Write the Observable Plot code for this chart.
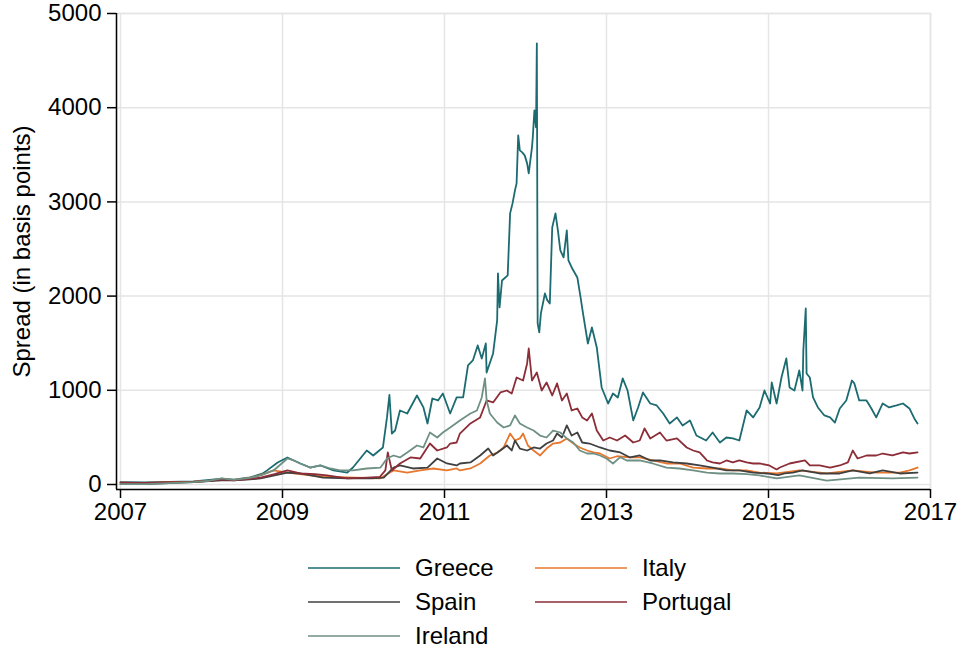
<!DOCTYPE html>
<html>
<head>
<meta charset="utf-8">
<script src="https://cdn.jsdelivr.net/npm/d3@7"></script>
<script src="https://cdn.jsdelivr.net/npm/@observablehq/plot@0.6"></script>
<style>
  html, body { margin: 0; padding: 0; background: #fff; }
  #chart { width: 958px; }
  svg { display: block; }
</style>
</head>
<body>
<div id="chart"></div>
<script>
// ---------- data (decimal year, spread in bp) ----------
const countries = ["Greece", "Italy", "Spain", "Portugal", "Ireland"];
const colors = ["#1b6b71", "#e8772e", "#404040", "#8c2d37", "#6f9084"];
const xTicks = [2007, 2009, 2011, 2013, 2015, 2017];
const yTicks = [0, 1000, 2000, 3000, 4000, 5000];
const yTitle = "Spread (in basis points)";

const greece = [[2007.0,25],[2007.3,22],[2007.6,28],[2007.9,32],[2008.1,48],[2008.25,62],[2008.4,52],[2008.6,75],[2008.75,115],[2008.81,150],[2008.94,234],[2009.06,287],[2009.14,255],[2009.22,223],[2009.34,180],[2009.47,202],[2009.63,149],[2009.8,127],[2009.87,180],[2010.04,361],[2010.12,308],[2010.24,393],[2010.29,712],[2010.32,950],[2010.35,541],[2010.39,573],[2010.45,786],[2010.54,754],[2010.66,945],[2010.74,818],[2010.79,648],[2010.85,913],[2010.92,892],[2010.98,966],[2011.07,754],[2011.15,924],[2011.23,924],[2011.29,1264],[2011.35,1317],[2011.41,1476],[2011.46,1338],[2011.51,1497],[2011.52,1189],[2011.6,1391],[2011.65,1742],[2011.66,2241],[2011.68,1880],[2011.71,2166],[2011.78,2220],[2011.81,2878],[2011.84,2984],[2011.87,3122],[2011.89,3197],[2011.91,3706],[2011.93,3547],[2011.96,3526],[2011.99,3494],[2012.02,3409],[2012.04,3303],[2012.08,3579],[2012.09,3685],[2012.11,3972],[2012.13,3791],[2012.14,4683],[2012.15,1710],[2012.17,1614],[2012.19,1816],[2012.24,2028],[2012.27,1954],[2012.30,1922],[2012.33,2729],[2012.37,2878],[2012.40,2697],[2012.43,2485],[2012.47,2411],[2012.51,2697],[2012.53,2379],[2012.57,2304],[2012.64,2198],[2012.68,1986],[2012.71,1816],[2012.77,1497],[2012.82,1667],[2012.88,1455],[2012.94,1030],[2013.02,860],[2013.08,966],[2013.14,924],[2013.20,1126],[2013.26,998],[2013.33,680],[2013.39,818],[2013.45,977],[2013.54,860],[2013.62,839],[2013.70,754],[2013.78,648],[2013.87,712],[2013.94,627],[2014.03,680],[2014.11,520],[2014.23,467],[2014.31,552],[2014.40,446],[2014.48,499],[2014.56,489],[2014.64,467],[2014.73,786],[2014.81,712],[2014.89,818],[2014.95,998],[2015.02,860],[2015.04,1083],[2015.10,860],[2015.16,1136],[2015.22,1338],[2015.26,1030],[2015.32,998],[2015.38,1211],[2015.42,998],[2015.43,1423],[2015.46,1869],[2015.47,1179],[2015.51,1136],[2015.55,924],[2015.61,818],[2015.69,733],[2015.76,712],[2015.82,658],[2015.88,807],[2015.96,892],[2016.03,1104],[2016.06,1073],[2016.12,892],[2016.21,892],[2016.27,807],[2016.33,712],[2016.41,860],[2016.49,818],[2016.58,839],[2016.66,860],[2016.74,807],[2016.80,701],[2016.84,648]];

const italy = [[2007.0,20],[2007.3,15],[2007.6,25],[2007.9,30],[2008.1,40],[2008.25,55],[2008.4,50],[2008.6,70],[2008.73,100],[2008.89,149],[2009.06,127],[2009.22,110],[2009.34,96],[2009.6,80],[2009.9,74],[2010.2,64],[2010.37,149],[2010.54,127],[2010.70,149],[2010.86,170],[2011.03,149],[2011.15,170],[2011.19,149],[2011.32,170],[2011.44,223],[2011.56,308],[2011.65,340],[2011.73,393],[2011.81,541],[2011.87,467],[2011.93,489],[2011.97,541],[2012.03,414],[2012.10,361],[2012.18,308],[2012.26,382],[2012.34,435],[2012.43,446],[2012.51,489],[2012.59,435],[2012.67,393],[2012.76,361],[2012.84,340],[2012.92,329],[2013.04,276],[2013.13,300],[2013.29,287],[2013.41,287],[2013.57,255],[2013.74,223],[2013.90,223],[2014.07,180],[2014.24,170],[2014.40,170],[2014.56,149],[2014.73,149],[2014.89,127],[2015.10,117],[2015.38,149],[2015.72,117],[2016.04,149],[2016.33,127],[2016.62,127],[2016.74,149],[2016.84,180]];

const spain = [[2007.0,5],[2007.3,5],[2007.6,15],[2007.9,25],[2008.1,35],[2008.25,45],[2008.4,45],[2008.6,55],[2008.73,64],[2009.06,127],[2009.22,117],[2009.5,74],[2009.8,64],[2010.1,64],[2010.25,74],[2010.37,180],[2010.45,202],[2010.61,170],[2010.79,180],[2010.91,276],[2011.03,223],[2011.15,202],[2011.19,223],[2011.32,234],[2011.44,308],[2011.54,382],[2011.60,308],[2011.69,361],[2011.77,414],[2011.83,361],[2011.87,467],[2011.93,382],[2012.02,361],[2012.10,393],[2012.18,382],[2012.26,435],[2012.34,467],[2012.39,541],[2012.45,499],[2012.51,627],[2012.57,520],[2012.64,552],[2012.70,446],[2012.79,435],[2012.92,393],[2013.04,361],[2013.17,340],[2013.29,287],[2013.41,308],[2013.54,255],[2013.66,255],[2013.82,234],[2013.99,223],[2014.15,202],[2014.31,180],[2014.48,149],[2014.64,149],[2014.81,127],[2014.98,117],[2015.12,100],[2015.20,117],[2015.30,127],[2015.42,149],[2015.63,117],[2015.88,117],[2016.04,149],[2016.25,117],[2016.41,149],[2016.62,117],[2016.84,127]];

const portugal = [[2007.0,20],[2007.3,18],[2007.6,25],[2007.9,28],[2008.1,40],[2008.25,55],[2008.4,45],[2008.6,60],[2008.73,74],[2008.9,110],[2009.06,149],[2009.22,117],[2009.4,110],[2009.55,96],[2009.8,64],[2010.05,74],[2010.2,80],[2010.27,150],[2010.30,340],[2010.35,149],[2010.45,223],[2010.58,287],[2010.70,276],[2010.82,435],[2010.91,361],[2011.03,393],[2011.07,435],[2011.15,446],[2011.19,541],[2011.32,648],[2011.44,712],[2011.52,892],[2011.60,871],[2011.69,977],[2011.77,998],[2011.83,966],[2011.89,1136],[2011.97,1104],[2012.02,1285],[2012.04,1444],[2012.08,1104],[2012.14,1189],[2012.20,998],[2012.26,1083],[2012.33,945],[2012.39,1073],[2012.45,892],[2012.51,966],[2012.57,786],[2012.64,807],[2012.70,712],[2012.76,680],[2012.82,754],[2012.88,573],[2012.96,467],[2013.04,499],[2013.13,467],[2013.23,520],[2013.33,446],[2013.41,467],[2013.47,595],[2013.54,489],[2013.66,552],[2013.74,467],[2013.87,489],[2013.99,393],[2014.07,361],[2014.15,340],[2014.24,255],[2014.31,234],[2014.40,223],[2014.48,255],[2014.56,234],[2014.64,255],[2014.73,234],[2014.81,223],[2014.89,223],[2015.01,202],[2015.10,160],[2015.14,180],[2015.26,223],[2015.45,255],[2015.51,202],[2015.63,202],[2015.76,180],[2015.88,202],[2015.98,234],[2016.04,361],[2016.10,276],[2016.21,308],[2016.33,308],[2016.41,329],[2016.53,308],[2016.66,340],[2016.74,329],[2016.84,340]];

const ireland = [[2007.0,5],[2007.3,5],[2007.6,15],[2007.9,25],[2008.1,40],[2008.25,65],[2008.4,50],[2008.6,70],[2008.73,96],[2008.89,149],[2009.06,276],[2009.14,255],[2009.22,223],[2009.34,180],[2009.47,202],[2009.59,170],[2009.71,149],[2009.87,149],[2010.04,170],[2010.21,180],[2010.29,276],[2010.37,308],[2010.45,287],[2010.54,340],[2010.66,414],[2010.74,393],[2010.82,552],[2010.91,499],[2010.98,552],[2011.07,605],[2011.19,680],[2011.32,754],[2011.40,786],[2011.46,924],[2011.50,1126],[2011.52,892],[2011.56,754],[2011.65,658],[2011.73,605],[2011.81,627],[2011.87,733],[2011.93,648],[2012.02,605],[2012.10,573],[2012.18,520],[2012.26,499],[2012.34,573],[2012.43,552],[2012.51,489],[2012.59,446],[2012.67,361],[2012.76,329],[2012.84,329],[2012.92,308],[2013.00,276],[2013.08,223],[2013.17,290],[2013.25,255],[2013.41,255],[2013.57,223],[2013.74,180],[2013.90,170],[2014.07,149],[2014.24,127],[2014.40,117],[2014.56,117],[2014.73,110],[2014.89,96],[2015.10,64],[2015.38,96],[2015.72,42],[2016.12,74],[2016.53,64],[2016.84,74]];

const seriesValues = [greece, italy, spain, portugal, ireland];

// ---------- build table ----------
const rows = [];
countries.forEach((c, i) => {
  for (const [year, value] of seriesValues[i]) rows.push({country: c, year, value});
});

const FONT = "'Liberation Sans', Arial, Helvetica, sans-serif";
const FS = 24;
const grid = "#e5e5e5";

const chart = Plot.plot({
  width: 958,
  height: 535,
  marginLeft: 116,
  marginRight: 28,
  marginTop: 13,
  marginBottom: 46,
  style: {fontFamily: FONT, fontSize: FS + "px", color: "#000", background: "#fff", overflow: "visible"},
  x: {domain: [2007, 2017], insetLeft: 4, label: null},
  y: {domain: [0, 5000], insetBottom: 5, label: null},
  color: {domain: countries, range: colors},
  marks: [
    Plot.frame({stroke: grid, strokeWidth: 1.5}),
    Plot.gridY(yTicks, {stroke: grid, strokeOpacity: 1, strokeWidth: 1.5}),
    Plot.gridX(xTicks, {stroke: grid, strokeOpacity: 1, strokeWidth: 1.5}),
    Plot.line(rows, {x: "year", y: "value", z: "country", stroke: "country", strokeWidth: 1.8, strokeLinejoin: "round"}),
    Plot.ruleX([2007], {dx: -4, stroke: "#000", strokeWidth: 1.5}),
    Plot.ruleY([0], {dy: 5, stroke: "#000", strokeWidth: 1.5}),
    Plot.axisY(yTicks, {tickSize: 9, tickPadding: 6, label: null, fontSize: FS, tickFormat: d => String(d), strokeWidth: 1.5}),
    Plot.axisX(xTicks, {tickSize: 9, tickPadding: 4, label: null, fontSize: FS, tickFormat: d => String(d), strokeWidth: 1.5}),
    Plot.text([yTitle], {frameAnchor: "left", text: d => d, rotate: -90, dx: -94, fontSize: FS, textAnchor: "middle", lineAnchor: "middle", fill: "#000"})
  ]
});
document.getElementById("chart").appendChild(chart);

// ---------- legend (below the plot) ----------
const legendOrder = [
  {name: "Greece", col: 0, row: 0},
  {name: "Spain", col: 0, row: 1},
  {name: "Ireland", col: 0, row: 2},
  {name: "Italy", col: 1, row: 0},
  {name: "Portugal", col: 1, row: 1}
];
const colX = [308, 535];
const rowY = [33, 67, 101];
const leg = d3.create("svg").attr("width", 958).attr("height", 115)
  .style("font-family", FONT).style("font-size", FS + "px");
for (const item of legendOrder) {
  const color = colors[countries.indexOf(item.name)];
  const g = leg.append("g").attr("transform", `translate(${colX[item.col]},${rowY[item.row]})`);
  g.append("line").attr("x1", 0).attr("x2", 92).attr("y1", 0).attr("y2", 0)
    .attr("stroke", color).attr("stroke-width", 1.6);
  g.append("text").attr("x", 107).attr("y", 0).attr("dy", "0.35em").attr("fill", "#000").text(item.name);
}
document.getElementById("chart").appendChild(leg.node());
</script>
</body>
</html>
